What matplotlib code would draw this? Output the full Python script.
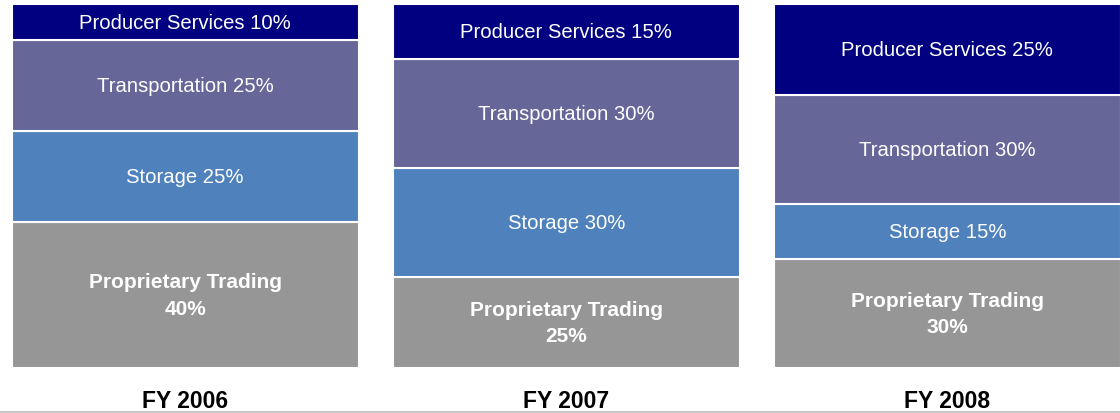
import numpy as np
import matplotlib.pyplot as plt

plt.rcParams['font.family'] = ['Liberation Sans', 'DejaVu Sans']

years = ["FY 2006", "FY 2007", "FY 2008"]
segments = ["Proprietary Trading", "Storage", "Transportation", "Producer Services"]
shares = {
    "Proprietary Trading": [40, 25, 30],
    "Storage": [25, 30, 15],
    "Transportation": [25, 30, 30],
    "Producer Services": [10, 15, 25],
}
colors = {
    "Proprietary Trading": "#969696",
    "Storage": "#4F81BD",
    "Transportation": "#666699",
    "Producer Services": "#000080",
}

fig = plt.figure(figsize=(11.2, 4.14), dpi=100)
# axes span the bar area: top 5 px, bottom 369 px
ax = fig.add_axes([0, 1 - 369 / 414, 1, 364 / 414])

x = np.arange(len(years))
width = 0.91
bottom = np.zeros(len(years))
for seg in segments:
    vals = np.array(shares[seg])
    ax.bar(x, vals, width=width, bottom=bottom, color=colors[seg],
           edgecolor="white", linewidth=1.5)
    for i, v in enumerate(vals):
        yc = bottom[i] + v / 2
        if seg == "Proprietary Trading":
            ax.text(x[i], yc, f"{seg}\n{v}%", ha="center", va="center",
                    color="white", fontsize=15, fontweight="bold",
                    linespacing=1.5)
        else:
            ax.text(x[i], yc, f"{seg} {v}%", ha="center", va="center",
                    color="white", fontsize=14.6)
    bottom += vals

ax.set_xlim(-0.486, 2.453)
ax.set_ylim(0, 100)
ax.axis("off")

# category labels below the bars
for i, yr in enumerate(years):
    fx = (x[i] + 0.486) / (2.453 + 0.486)
    fig.text(fx, 1 - 402 / 414, yr, ha="center", va="center",
             fontsize=16.5, fontweight="bold", color="black")

fig.add_artist(plt.Line2D([0, 1], [1 - 412.5 / 414] * 2, color="#c8c8c8",
                          linewidth=1.5, transform=fig.transFigure))

fig.savefig("out.png", dpi=100)
